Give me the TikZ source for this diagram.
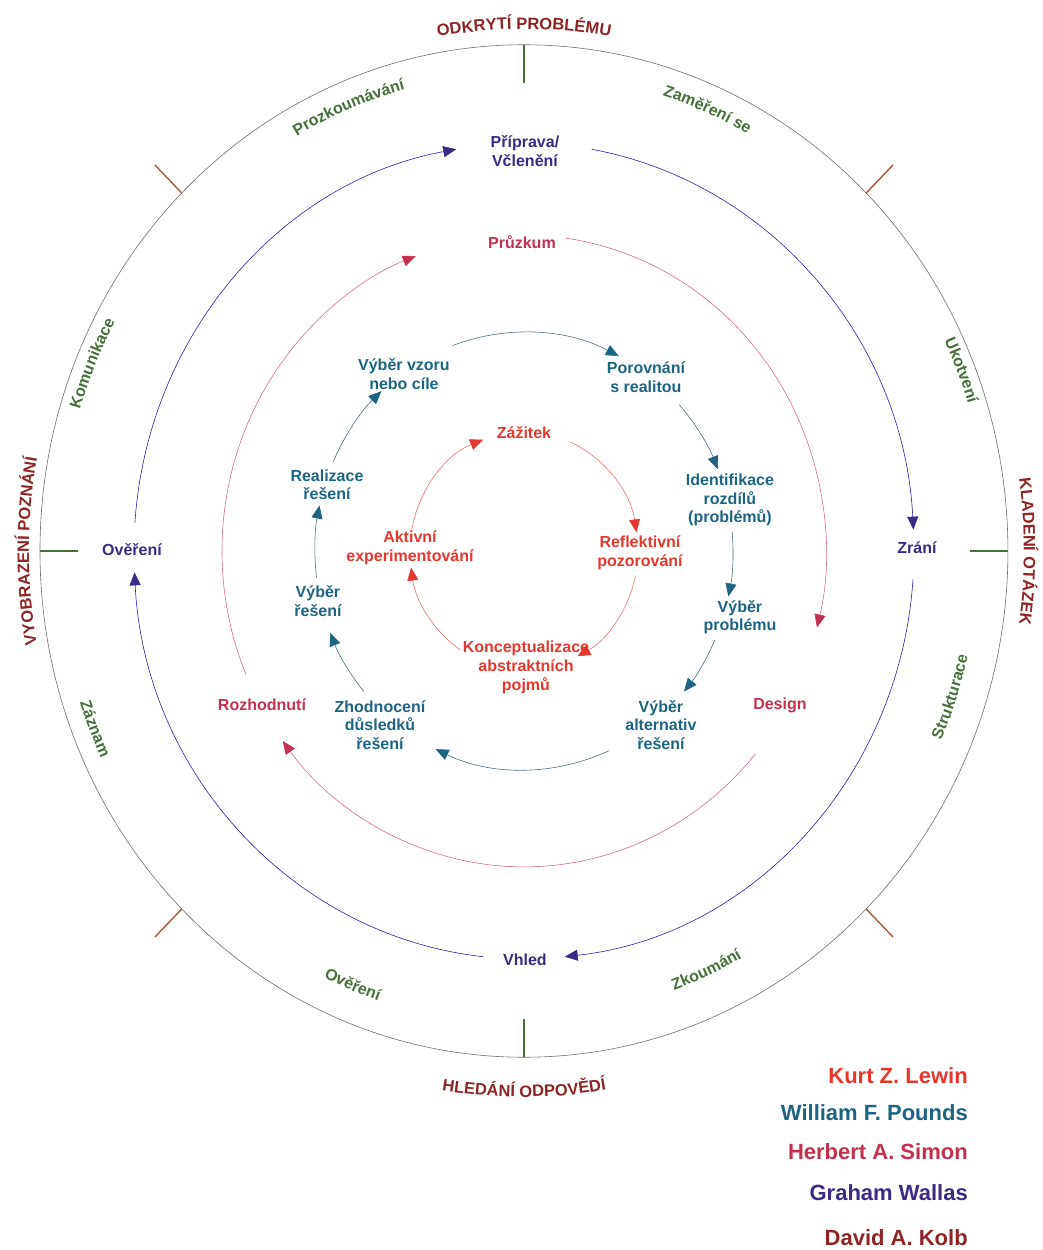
\documentclass[tikz,border=0pt]{standalone}
\usepackage{fontspec}
\setmainfont{Liberation Sans}
\usetikzlibrary{arrows.meta,decorations.text}

\definecolor{kolbred}{HTML}{E6372D}
\definecolor{poundsteal}{HTML}{1D6482}
\definecolor{simoncrim}{HTML}{C4304F}
\definecolor{wallasind}{HTML}{3B2A85}
\definecolor{phasered}{HTML}{8E2426}
\definecolor{stepgreen}{HTML}{46703A}
\definecolor{tickbrown}{HTML}{A85A38}
\definecolor{ringgray}{HTML}{6E6E6E}

% text set along a ring arc, running clockwise (letters face outwards)
\newcommand{\ringcw}[5][16]{%
  \path[decorate,decoration={text along path,text align=center,
    text={|\fontsize{#1}{#1}\selectfont\bfseries\color{#4}|#5}}]
    ({#2+45}:#3) arc[start angle={#2+45},end angle={#2-45},radius=#3];}
% text set along a ring arc, running counter-clockwise (letters face inwards)
\newcommand{\ringccw}[5][16]{%
  \path[decorate,decoration={text along path,text align=center,
    text={|\fontsize{#1}{#1}\selectfont\bfseries\color{#4}|#5}}]
    ({#2-45}:#3) arc[start angle={#2-45},end angle={#2+45},radius=#3];}

\begin{document}
\begin{tikzpicture}[x=1pt,y=1.046pt,
  lab/.style={font=\fontsize{16}{19}\selectfont\bfseries,align=center,inner sep=1pt},
  kolb/.style={lab,text=kolbred},
  pounds/.style={lab,text=poundsteal,font=\fontsize{16}{18.5}\selectfont\bfseries},
  simon/.style={lab,text=simoncrim},
  wallas/.style={lab,text=wallasind},
  legend/.style={font=\fontsize{22}{26}\selectfont\bfseries,anchor=east,inner sep=0pt},
  headed/.style={-{Triangle[length=13pt,width=11pt,color=#1]}},
  kolbarc/.style={draw=kolbred!70,line width=0.6pt,headed=kolbred},
  poundsarc/.style={draw=poundsteal!55!gray,line width=0.6pt,headed=poundsteal},
  simonarc/.style={draw=simoncrim!70,line width=0.6pt,headed=simoncrim},
  wallasarc/.style={draw=wallasind!75!blue,line width=0.6pt,headed=wallasind},
  greentick/.style={draw=stepgreen,line width=1.8pt},
  browntick/.style={draw=tickbrown,line width=1.4pt}
]
\useasboundingbox (-524,-668.3) rectangle (519,526.8);

% outer ring with its phase ticks
\draw[ringgray,line width=0.6pt] (0,0) circle[radius=484];
\draw[greentick] (90:484) -- (90:447.7);
\draw[greentick] (270:484) -- (270:447.7);
\draw[greentick] (0:484) -- (0:446);
\draw[greentick] (180:484) -- (180:446);
\foreach \a in {45,135,225,315}
  \draw[browntick] (\a:484) -- (\a:522);

% phase names outside the ring
\ringcw[16.5]{90}{499}{phasered}{ODKRYTÍ PROBLÉMU}
\ringcw[16.5]{0}{500}{phasered}{KLADENÍ OTÁZEK}
\ringccw[16.5]{270}{522}{phasered}{HLEDÁNÍ ODPOVĚDÍ}
\ringcw[16.5]{180}{495}{phasered}{VYOBRAZENÍ POZNÁNÍ}

% steps along the inside of the ring
\ringcw{112}{457}{stepgreen}{Prozkoumávání}
\ringcw{67}{457}{stepgreen}{Zaměření se}
\ringcw{22}{466}{stepgreen}{Ukotvení}
\ringcw{157}{464}{stepgreen}{Komunikace}
\ringccw{-18.5}{455}{stepgreen}{Strukturace}
\ringccw{-66}{446}{stepgreen}{Zkoumání}
\ringccw{-112}{454}{stepgreen}{Ověření}
\ringccw{-158}{467}{stepgreen}{Záznam}

% Wallas cycle
\node[wallas] (prip) at (1,382.4) {Příprava/\\Včlenění};
\node[wallas] (zrani) at (393,2.9) {Zrání};
\node[wallas] (vhled) at (1,-391) {Vhled};
\node[wallas] (over) at (-392,1) {Ověření};
\draw[wallasarc] (80:390) arc[start angle=80,end angle=3,radius=390];
\draw[wallasarc] (-4:390) arc[start angle=-4,end angle=-84,radius=390];
\draw[wallasarc] (-96:390) arc[start angle=-96,end angle=-177,radius=390];
\draw[wallasarc] (176:390) arc[start angle=176,end angle=100,radius=390];

% Simon cycle
\node[simon] (pruz) at (-2,295.4) {Průzkum};
\node[simon] (design) at (256,-147.2) {Design};
\node[simon] (rozh) at (-262,-147.2) {Rozhodnutí};
\draw[simonarc] (82:302) arc[start angle=82,end angle=-14,radius=302];
\draw[simonarc] (-40:302) arc[start angle=-40,end angle=-143,radius=302];
\draw[simonarc] (203:302) arc[start angle=203,end angle=111,radius=302];

% Pounds cycle
\node[pounds] (vzor) at (-120,169.2) {Výběr vzoru\\nebo cíle};
\node[pounds] (porov) at (122,166.3) {Porovnání\\s realitou};
\node[pounds] (ident) at (206,48.8) {Identifikace\\rozdílů\\(problémů)};
\node[pounds] (vprob) at (216,-63.1) {Výběr\\problému};
\node[pounds] (valt) at (137,-166.3) {Výběr\\alternativ\\řešení};
\node[pounds] (zhod) at (-144,-166.3) {Zhodnocení\\důsledků\\řešení};
\node[pounds] (vres) at (-206,-47.8) {Výběr\\řešení};
\node[pounds] (real) at (-197,63.1) {Realizace\\řešení};
\draw[poundsarc] (110:209) arc[start angle=110,end angle=63,radius=209];
\draw[poundsarc] (42:209) arc[start angle=42,end angle=22,radius=209];
\draw[poundsarc] (5:209) arc[start angle=5,end angle=-12,radius=209];
\draw[poundsarc] (-24:209) arc[start angle=-24,end angle=-40,radius=209];
\draw[poundsarc] (-66:209) arc[start angle=-66,end angle=-115,radius=209];
\draw[poundsarc] (-140:209) arc[start angle=-140,end angle=-158,radius=209];
\draw[poundsarc] (187:209) arc[start angle=187,end angle=168,radius=209];
\draw[poundsarc] (156:209) arc[start angle=156,end angle=133,radius=209];

% Kolb cycle
\node[kolb] (zaz) at (0,112.8) {Zážitek};
\node[kolb] (refl) at (116,-1.9) {Reflektivní\\pozorování};
\node[kolb] (konc) at (2,-110.9) {Konceptualizace\\abstraktních\\pojmů};
\node[kolb] (akt) at (-114,2.9) {Aktivní\\experimentování};
\draw[kolbarc] (66:114) arc[start angle=66,end angle=9,radius=114];
\draw[kolbarc] (-12:114) arc[start angle=-12,end angle=-62,radius=114];
\draw[kolbarc] (-124:114) arc[start angle=-124,end angle=-172,radius=114];
\draw[kolbarc] (170:114) arc[start angle=170,end angle=111,radius=114];

% authors
\node[legend,text=kolbred] (lewin) at (444,-501.9) {Kurt Z. Lewin};
\node[legend,text=poundsteal] (pounds) at (444,-537.3) {William F. Pounds};
\node[legend,text=simoncrim] (simon) at (444,-574.6) {Herbert A. Simon};
\node[legend,text=wallasind] (wallas) at (444,-613.8) {Graham Wallas};
\node[legend,text=phasered] (kolb) at (444,-656.8) {David A. Kolb};
\end{tikzpicture}
\end{document}
